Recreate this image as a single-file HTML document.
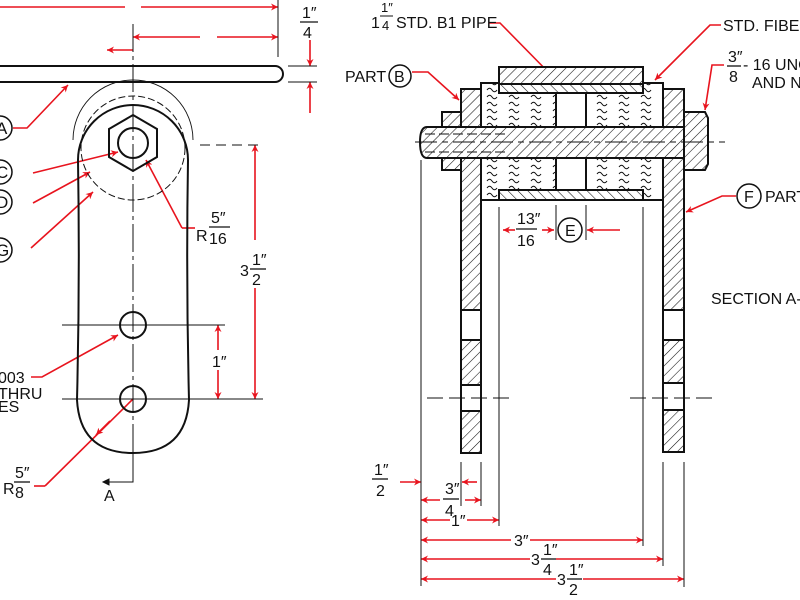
<!DOCTYPE html>
<html><head><meta charset="utf-8"><style>
html,body{margin:0;padding:0;background:#fff;width:800px;height:600px;overflow:hidden}
svg{display:block}
text{font-family:"Liberation Sans",sans-serif;fill:#111}
</style></head><body>
<svg width="800" height="600" viewBox="0 0 800 600" xmlns="http://www.w3.org/2000/svg">
<defs>
<pattern id="h" width="7" height="7" patternUnits="userSpaceOnUse" patternTransform="rotate(45)">
<rect width="7" height="7" fill="#fff"/><line x1="0" y1="0" x2="0" y2="7" stroke="#111" stroke-width="1.1"/></pattern>
<pattern id="h2" width="7" height="7" patternUnits="userSpaceOnUse" patternTransform="rotate(-45)">
<rect width="7" height="7" fill="#fff"/><line x1="0" y1="0" x2="0" y2="7" stroke="#111" stroke-width="1.1"/></pattern>
<pattern id="w" width="22" height="7" patternUnits="userSpaceOnUse" x="484" y="86">
<rect width="22" height="7" fill="#fff"/><path d="M3 4 q2.5 -3.5 5 0 t5 0" fill="none" stroke="#111" stroke-width="1"/></pattern>
<marker id="a" viewBox="0 0 10 10" refX="10" refY="5" markerWidth="9" markerHeight="7" orient="auto-start-reverse" markerUnits="userSpaceOnUse">
<path d="M0 0 L10 5 L0 10 L3 5z" fill="#e8141e"/></marker>
</defs>

<g fill="none" stroke="#e8141e" stroke-width="1.6">
<path d="M0 7 H125 M141 7 H278" marker-end="url(#a)"/>
<path d="M133 37 H200 M217 37 H278" marker-start="url(#a)" marker-end="url(#a)"/>
<path d="M133 50 H107" marker-end="url(#a)"/>
<path d="M310 40 V66" marker-end="url(#a)"/>
<path d="M310 113 V82" marker-end="url(#a)"/>
<path d="M255 240 V145" marker-end="url(#a)"/>
<path d="M255 288 V399" marker-end="url(#a)"/>
<path d="M218 350 V325" marker-end="url(#a)"/>
<path d="M218 370 V399" marker-end="url(#a)"/>
<path d="M13 128 H27 L68 85" marker-end="url(#a)"/>
<path d="M33 173 L118 152" marker-end="url(#a)"/>
<path d="M33 203 L90 172" marker-end="url(#a)"/>
<path d="M31 248 L93 192" marker-end="url(#a)"/>
<path d="M182 228 L146 160" marker-end="url(#a)"/>
<path d="M182 228 H195"/>
<path d="M31 377 H42 L118 335" marker-end="url(#a)"/>
<path d="M45 486 L133 399"/>
<path d="M110 421 L96 435" marker-end="url(#a)"/>
<path d="M34 486 H45"/>
<path d="M489 23 H500 L556 80" marker-end="url(#a)"/>
<path d="M721 25 H710 L655 80" marker-end="url(#a)"/>
<path d="M412 72 H428 L459 100" marker-end="url(#a)"/>
<path d="M724 65 H712 L705 110" marker-end="url(#a)"/>
<path d="M736 196 H722 L686 212" marker-end="url(#a)"/>
<path d="M515 230 H503" marker-end="url(#a)"/>
<path d="M542 230 H554" marker-end="url(#a)"/>
<path d="M620 230 H587" marker-end="url(#a)"/>
<path d="M400 482 H421" marker-end="url(#a)"/>
<path d="M477 482 H462" marker-end="url(#a)"/>
<path d="M421 500 H440 M465 500 H481" marker-start="url(#a)" marker-end="url(#a)"/>
<path d="M421 520 H450 M467 520 H499" marker-start="url(#a)" marker-end="url(#a)"/>
<path d="M421 540 H511 M530 540 H643" marker-start="url(#a)" marker-end="url(#a)"/>
<path d="M421 559 H530 M556 559 H663" marker-start="url(#a)" marker-end="url(#a)"/>
<path d="M421 579 H556 M583 579 H684" marker-start="url(#a)" marker-end="url(#a)"/>
</g>

<g fill="none" stroke="#111" stroke-width="1">
<line x1="278" y1="0" x2="278" y2="57"/>
<line x1="288" y1="66" x2="317" y2="66"/><line x1="288" y1="82" x2="317" y2="82"/>
<line x1="133" y1="24" x2="133" y2="460" stroke-dasharray="28 4 4 4"/>
<line x1="200" y1="145" x2="263" y2="145" stroke-dasharray="10 6"/>
<line x1="62" y1="325" x2="225" y2="325"/><line x1="62" y1="399" x2="263" y2="399"/>
<path d="M73 140 A60 60 0 0 1 193 140" stroke-width="0.9"/>
<circle cx="133" cy="148" r="52" stroke-dasharray="7 3"/>
<path d="M133 453 V482 H103" />
<path d="M103 482 l6 -3 v6z" fill="#111"/>
</g>
<g fill="none" stroke="#111" stroke-width="2">
<path d="M0 66 H275 a8 8 0 0 1 0 16 H0"/>
<path d="M78 160 A55 55 0 0 1 188 160 Q186 280 189 400 Q186 453 133 453 Q80 453 77 400 Q80 280 78 160Z"/>
<path d="M133 115 L157 129 L157 157 L133 171 L109 157 L109 129Z"/>
<circle cx="133" cy="143" r="15"/>
<circle cx="133" cy="325" r="13"/><circle cx="133" cy="399" r="13"/>
</g>
<g fill="#fff" stroke="#111" stroke-width="1.5">
<circle cx="0" cy="128" r="12"/><circle cx="0" cy="172" r="12"/><circle cx="0" cy="202" r="12"/><circle cx="0" cy="250" r="12"/>
</g>
<g font-size="17">
<text x="-4" y="134">A</text><text x="-4" y="178">C</text><text x="-4" y="208">D</text><text x="-4" y="256">G</text>
</g>
<g font-size="16">
<text x="302" y="18">1″</text><line x1="300" y1="22" x2="318" y2="22" stroke="#111" stroke-width="1.3"/><text x="303" y="38">4</text>
<text x="196" y="241">R</text><text x="211" y="223">5″</text><line x1="209" y1="227" x2="230" y2="227" stroke="#111" stroke-width="1.3"/><text x="209" y="244">16</text>
<text x="240" y="276">3</text><text x="252" y="265">1″</text><line x1="250" y1="269" x2="266" y2="269" stroke="#111" stroke-width="1.3"/><text x="252" y="285">2</text>
<text x="212" y="367">1″</text>
<text x="-2" y="383">003</text><text x="-2" y="399">THRU</text><text x="-2" y="412">ES</text>
<text x="3" y="494">R</text><text x="15" y="478">5″</text><line x1="14" y1="482" x2="30" y2="482" stroke="#111" stroke-width="1.3"/><text x="15" y="498">8</text>
<text x="104" y="501">A</text>
</g>

<g stroke="#111" stroke-width="1">
<line x1="421" y1="160" x2="421" y2="586"/>
<line x1="499" y1="207" x2="499" y2="526"/>
<line x1="643" y1="207" x2="643" y2="546"/>
<line x1="663" y1="462" x2="663" y2="566"/>
<line x1="684" y1="462" x2="684" y2="587"/>
<line x1="461" y1="462" x2="461" y2="506"/>
<line x1="481" y1="462" x2="481" y2="506"/>
<line x1="556" y1="205" x2="556" y2="240"/><line x1="586" y1="205" x2="586" y2="240"/>
</g>
<g stroke="#111" stroke-width="2">
<rect x="481" y="83" width="75" height="44" fill="url(#w)"/>
<rect x="586" y="83" width="77" height="44" fill="url(#w)"/>
<rect x="481" y="158" width="75" height="42" fill="url(#w)"/>
<rect x="586" y="158" width="77" height="42" fill="url(#w)"/>
<rect x="556" y="83" width="30" height="44" fill="#fff"/>
<rect x="556" y="158" width="30" height="42" fill="#fff"/>
<rect x="499" y="67" width="144" height="17" fill="url(#h)"/>
<rect x="499" y="84" width="144" height="9" fill="url(#h2)"/>
<rect x="499" y="190" width="144" height="10" fill="url(#h2)"/>
<rect x="461" y="89" width="20" height="38" fill="url(#h)"/>
<rect x="663" y="89" width="21" height="38" fill="url(#h)"/>
<rect x="442" y="112" width="19" height="15" fill="url(#h)"/>
<rect x="442" y="158" width="19" height="12" fill="url(#h)"/>
<path d="M684 112 H705 L708 118 V164 L705 170 H684Z" fill="url(#h)"/>
<path d="M427 127 H684 V158 H427 Q420 158 420 142 Q420 127 427 127Z" fill="url(#h)"/>
<rect x="461" y="158" width="20" height="152" fill="url(#h)"/>
<rect x="461" y="310" width="20" height="30" fill="#fff"/>
<rect x="461" y="340" width="20" height="45" fill="url(#h)"/>
<rect x="461" y="385" width="20" height="26" fill="#fff"/>
<rect x="461" y="411" width="20" height="42" fill="url(#h)"/>
<rect x="663" y="158" width="21" height="152" fill="url(#h)"/>
<rect x="663" y="310" width="21" height="30" fill="#fff"/>
<rect x="663" y="340" width="21" height="43" fill="url(#h)"/>
<rect x="663" y="383" width="21" height="27" fill="#fff"/>
<rect x="663" y="410" width="21" height="42" fill="url(#h)"/>
<line x1="481" y1="200" x2="663" y2="200"/>
</g>
<g stroke="#111" stroke-width="1" fill="none">
<line x1="415" y1="142" x2="725" y2="142" stroke-dasharray="22 5 6 5"/>
<line x1="427" y1="398" x2="515" y2="398" stroke-dasharray="16 6"/>
<line x1="630" y1="398" x2="715" y2="398" stroke-dasharray="16 6"/>
<line x1="425" y1="134" x2="505" y2="134" stroke-dasharray="10 4"/><line x1="425" y1="152" x2="505" y2="152" stroke-dasharray="10 4"/>
</g>
<g fill="#fff" stroke="#111" stroke-width="1.5">
<circle cx="400" cy="76" r="11"/><circle cx="570" cy="230" r="12"/><circle cx="749" cy="196" r="12"/>
</g>
<g font-size="16">
<text x="394" y="82">B</text><text x="565" y="236">E</text><text x="744" y="202">F</text>
<text x="345" y="82">PART</text><text x="765" y="202">PART</text>
<text x="371" y="28">1</text><text x="381" y="12" font-size="13">1″</text><line x1="380" y1="16" x2="393" y2="16" stroke="#111"/><text x="382" y="30" font-size="13">4</text>
<text x="396" y="28">STD. B1 PIPE</text>
<text x="723" y="31">STD. FIBER</text>
<text x="728" y="62">3″</text><line x1="727" y1="66" x2="741" y2="66" stroke="#111" stroke-width="1.3"/><text x="729" y="82">8</text>
<text x="743" y="70">- 16 UNC</text><text x="752" y="88">AND N</text>
<text x="517" y="224">13″</text><line x1="516" y1="229" x2="537" y2="229" stroke="#111" stroke-width="1.3"/><text x="517" y="246">16</text>
<text x="711" y="304">SECTION A-A</text>
<text x="374" y="475">1″</text><line x1="372" y1="479" x2="388" y2="479" stroke="#111" stroke-width="1.3"/><text x="376" y="496">2</text>
<text x="445" y="494">3″</text><line x1="443" y1="499" x2="459" y2="499" stroke="#111" stroke-width="1.3"/><text x="445" y="516">4</text>
<text x="451" y="526">1″</text>
<text x="514" y="546">3″</text>
<text x="531" y="565">3</text><text x="543" y="555">1″</text><line x1="541" y1="559" x2="556" y2="559" stroke="#111" stroke-width="1.3"/><text x="543" y="575">4</text>
<text x="557" y="585">3</text><text x="569" y="575">1″</text><line x1="567" y1="579" x2="582" y2="579" stroke="#111" stroke-width="1.3"/><text x="569" y="595">2</text>
</g>
</svg>
</body></html>
